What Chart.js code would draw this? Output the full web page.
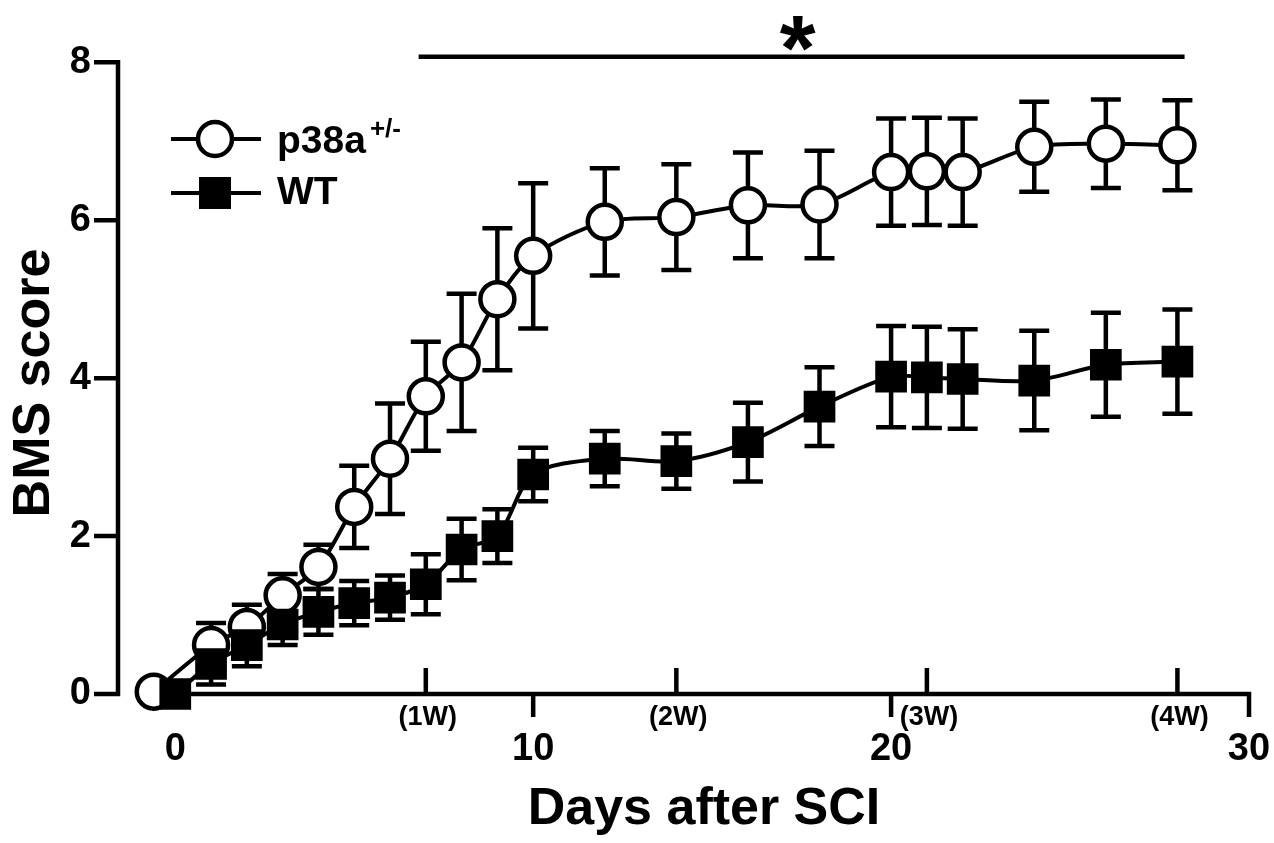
<!DOCTYPE html>
<html>
<head>
<meta charset="utf-8">
<title>BMS score after SCI</title>
<script src="https://cdn.jsdelivr.net/npm/chart.js@4.4.0/dist/chart.umd.min.js"></script>
<style>
  html, body { margin: 0; padding: 0; background: #fff; }
  canvas { display: block; }
</style>
</head>
<body>
<canvas id="chart" width="1274" height="843"></canvas>
<script>
// data (days after SCI, BMS score mean and SD)
const p38aDays = [-0.6, 1, 2, 3, 4, 5, 6, 7, 8, 9, 10, 12, 14, 16, 18, 20, 21, 22, 24, 26, 28];
const p38aMean = [0.03, 0.62, 0.85, 1.25, 1.61, 2.37, 2.98, 3.77, 4.2, 5.0, 5.55, 5.98, 6.04, 6.19, 6.2, 6.61, 6.62, 6.61, 6.93, 6.97, 6.95];
const p38aSD   = [0, 0.28, 0.28, 0.27, 0.28, 0.52, 0.7, 0.69, 0.87, 0.9, 0.92, 0.68, 0.67, 0.67, 0.68, 0.68, 0.68, 0.68, 0.57, 0.56, 0.57];

const wtDays = [0, 1, 2, 3, 4, 5, 6, 7, 8, 9, 10, 12, 14, 16, 18, 20, 21, 22, 24, 26, 28];
const wtMean = [0.0, 0.38, 0.62, 0.88, 1.04, 1.15, 1.22, 1.39, 1.83, 2.0, 2.78, 2.98, 2.95, 3.19, 3.64, 4.02, 4.01, 3.99, 3.97, 4.17, 4.21];
const wtSD   = [0, 0.26, 0.27, 0.26, 0.29, 0.28, 0.28, 0.38, 0.39, 0.34, 0.34, 0.35, 0.35, 0.5, 0.5, 0.64, 0.64, 0.63, 0.63, 0.66, 0.66];

const xTicks = [0, 10, 20, 30];
const weekTicks = [7, 14, 21, 28];
const weekLabels = ['(1W)', '(2W)', '(3W)', '(4W)'];
const yTicks = [0, 2, 4, 6, 8];
const sigRange = [6.8, 28.2];

const FONT = '"Liberation Sans", Arial, Helvetica, sans-serif';

const toPoints = (days, vals) => days.map((d, i) => ({ x: d, y: vals[i] }));

const errorSets = [
  { days: p38aDays, mean: p38aMean, sd: p38aSD },
  { days: wtDays, mean: wtMean, sd: wtSD }
];

// axes, ticks and error bars go under the markers
const underlay = {
  id: 'underlay',
  beforeDatasetsDraw(chart) {
    const { ctx, chartArea, scales: { x, y } } = chart;
    ctx.save();
    ctx.strokeStyle = '#000';
    ctx.fillStyle = '#000';
    ctx.lineWidth = 4.5;
    ctx.lineCap = 'butt';

    // y axis
    const left = chartArea.left;
    ctx.beginPath();
    ctx.moveTo(left, y.getPixelForValue(0) + 2.25);
    ctx.lineTo(left, y.getPixelForValue(8) - 2.25);
    yTicks.forEach(v => {
      ctx.moveTo(left - 24, y.getPixelForValue(v));
      ctx.lineTo(left, y.getPixelForValue(v));
    });
    ctx.stroke();

    ctx.font = 'bold 38px ' + FONT;
    ctx.textAlign = 'right';
    ctx.textBaseline = 'middle';
    yTicks.forEach(v => ctx.fillText(String(v), left - 27, y.getPixelForValue(v)));

    // x axis
    const base = y.getPixelForValue(0);
    ctx.beginPath();
    ctx.moveTo(x.getPixelForValue(0), base);
    ctx.lineTo(x.getPixelForValue(30) + 2.25, base);
    xTicks.forEach(v => {
      if (v === 0) return;
      ctx.moveTo(x.getPixelForValue(v), base);
      ctx.lineTo(x.getPixelForValue(v), base + 23);
    });
    weekTicks.forEach(v => {
      ctx.moveTo(x.getPixelForValue(v), base);
      ctx.lineTo(x.getPixelForValue(v), base - 26);
    });
    ctx.stroke();

    ctx.textAlign = 'center';
    xTicks.forEach(v => ctx.fillText(String(v), x.getPixelForValue(v), base + 56));
    ctx.font = 'bold 27px ' + FONT;
    weekTicks.forEach((v, i) => ctx.fillText(weekLabels[i], x.getPixelForValue(v) + 2, base + 24));

    // titles
    ctx.font = 'bold 52px ' + FONT;
    ctx.textBaseline = 'alphabetic';
    ctx.fillText('Days after SCI', 704, 824);
    ctx.save();
    ctx.translate(49, 383);
    ctx.rotate(-Math.PI / 2);
    ctx.fillText('BMS score', 0, 0);
    ctx.restore();

    // error bars
    errorSets.forEach(set => {
      set.days.forEach((d, i) => {
        const sd = set.sd[i];
        if (!sd) return;
        const px = x.getPixelForValue(d);
        const top = y.getPixelForValue(set.mean[i] + sd);
        const bot = y.getPixelForValue(set.mean[i] - sd);
        ctx.beginPath();
        ctx.moveTo(px, top);
        ctx.lineTo(px, bot);
        ctx.moveTo(px - 15, top);
        ctx.lineTo(px + 15, top);
        ctx.moveTo(px - 15, bot);
        ctx.lineTo(px + 15, bot);
        ctx.stroke();
      });
    });
    ctx.restore();
  }
};

// legend and significance bar
const overlay = {
  id: 'overlay',
  afterDraw(chart) {
    const { ctx, scales: { x, y } } = chart;
    ctx.save();
    ctx.strokeStyle = '#000';
    ctx.fillStyle = '#000';

    const barY = y.getPixelForValue(8.07);
    ctx.lineWidth = 4.5;
    ctx.beginPath();
    ctx.moveTo(x.getPixelForValue(sigRange[0]), barY);
    ctx.lineTo(x.getPixelForValue(sigRange[1]), barY);
    ctx.stroke();
    ctx.font = 'bold 92px ' + FONT;
    ctx.textAlign = 'center';
    ctx.textBaseline = 'alphabetic';
    ctx.fillText('*', x.getPixelForValue((sigRange[0] + sigRange[1]) / 2) - 4, barY + 23);

    // legend rows
    ctx.lineWidth = 4;
    [139, 193].forEach(ly => {
      ctx.beginPath();
      ctx.moveTo(171, ly);
      ctx.lineTo(261, ly);
      ctx.stroke();
    });
    ctx.beginPath();
    ctx.arc(215, 139, 17, 0, Math.PI * 2);
    ctx.fillStyle = '#fff';
    ctx.fill();
    ctx.lineWidth = 4.5;
    ctx.stroke();
    ctx.fillStyle = '#000';
    ctx.fillRect(199, 177, 32, 32);

    ctx.textAlign = 'left';
    ctx.font = 'bold 39px ' + FONT;
    ctx.fillText('p38a', 277, 153);
    const w = ctx.measureText('p38a').width;
    ctx.font = 'bold 26px ' + FONT;
    ctx.fillText('+/-', 277 + w + 4, 137);
    ctx.font = 'bold 39px ' + FONT;
    ctx.fillText('WT', 277, 204);
    ctx.restore();
  }
};

new Chart(document.getElementById('chart'), {
  type: 'line',
  data: {
    datasets: [
      {
        label: 'p38a+/-',
        data: toPoints(p38aDays, p38aMean),
        borderColor: '#000',
        borderWidth: 4,
        tension: 0.3,
        pointStyle: 'circle',
        pointRadius: 17,
        pointBackgroundColor: '#fff',
        pointBorderColor: '#000',
        pointBorderWidth: 4.5,
        clip: false,
        order: 2
      },
      {
        label: 'WT',
        data: toPoints(wtDays, wtMean),
        borderColor: '#000',
        borderWidth: 4,
        tension: 0.3,
        pointStyle: 'rect',
        pointRadius: 21,
        pointBackgroundColor: '#000',
        pointBorderColor: '#000',
        pointBorderWidth: 2,
        clip: false,
        order: 1
      }
    ]
  },
  options: {
    responsive: false,
    animation: false,
    layout: { autoPadding: false, padding: { left: 118, right: 25, top: 15, bottom: 149 } },
    scales: {
      x: { type: 'linear', min: -1.6, max: 30, display: false },
      y: { min: 0, max: 8.6, display: false }
    },
    plugins: {
      legend: { display: false },
      tooltip: { enabled: false }
    }
  },
  plugins: [underlay, overlay]
});
</script>
</body>
</html>
